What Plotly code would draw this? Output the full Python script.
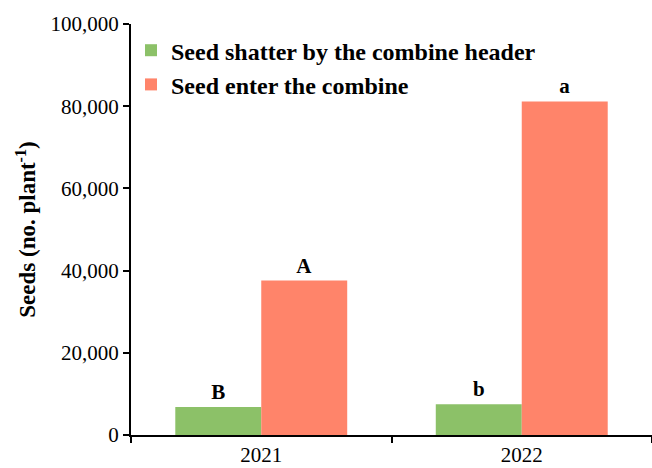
import plotly.graph_objects as go

years = ["2021", "2022"]
shatter = [6800, 7470]
enter = [37570, 81150]
shatter_letters = ["B", "b"]
enter_letters = ["A", "a"]
y_ticks = [0, 20000, 40000, 60000, 80000, 100000]
y_tick_labels = ["0", "20,000", "40,000", "60,000", "80,000", "100,000"]

serif = "Liberation Serif"

fig = go.Figure()
fig.add_trace(go.Bar(
    x=years, y=shatter, name="<b>Seed shatter by the combine header</b>",
    marker=dict(color="#8CC168", line=dict(width=0)),
    text=[f"<b>{t}</b>" for t in shatter_letters], textposition="outside",
    textfont=dict(family=serif, size=21, color="black"), cliponaxis=False,
))
fig.add_trace(go.Bar(
    x=years, y=enter, name="<b>Seed enter the combine</b>",
    marker=dict(color="#FF846A", line=dict(width=0)),
    text=[f"<b>{t}</b>" for t in enter_letters], textposition="outside",
    textfont=dict(family=serif, size=21, color="black"), cliponaxis=False,
))

fig.update_layout(
    width=652, height=468,
    margin=dict(l=131, r=0, t=24, b=33),
    paper_bgcolor="white", plot_bgcolor="white",
    barmode="group", bargap=0.34, bargroupgap=0,
    font=dict(family=serif, color="black"),
    showlegend=True,
    legend=dict(x=0.0, y=0.99, xanchor="left", yanchor="top",
                font=dict(family=serif, size=24, color="black"),
                bgcolor="rgba(0,0,0,0)", tracegroupgap=0, itemwidth=30),
    xaxis=dict(
        range=[-0.5, 1.5], showline=True, linecolor="black", linewidth=2,
        ticks="outside", tickson="boundaries", ticklen=6, tickwidth=2, tickcolor="black",
        tickfont=dict(family=serif, size=21, color="black"), showgrid=False,
        zeroline=False,
    ),
    yaxis=dict(
        range=[0, 100000], showline=True, linecolor="black", linewidth=2,
        ticks="outside", ticklen=6, tickwidth=2, tickcolor="black",
        tickvals=y_ticks, ticktext=y_tick_labels,
        tickfont=dict(family=serif, size=21, color="black"), showgrid=False,
        zeroline=False,
        title=dict(text="<b>Seeds (no. plant<sup>-1</sup>)</b>",
                   font=dict(family=serif, size=23, color="black"), standoff=8),
    ),
)

fig.write_html("out.html", config={"displayModeBar": False},
               post_script="document.body.style.margin='0';")
